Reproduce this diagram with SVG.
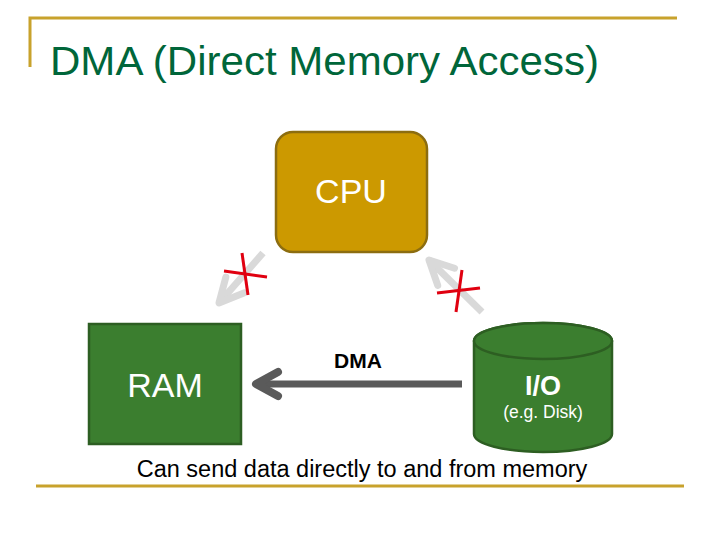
<svg xmlns="http://www.w3.org/2000/svg" width="720" height="540" viewBox="0 0 720 540">
<style>
.frame{stroke:#C8A22C;stroke-width:3;fill:none}
.t{font-family:"Liberation Sans",Arial,sans-serif}
.green{fill:#3B7E2F;stroke:#2D5E22;stroke-width:2.5}
.wt{fill:#FFFFFF}
.gray{stroke:#D9D9D9;stroke-width:7;fill:none}
.cross{stroke:#E00010;stroke-width:3}
.main{stroke:#5A5A5A;stroke-width:7;fill:none}
</style>
<defs>
<marker id="headDark" markerUnits="userSpaceOnUse" markerWidth="60" markerHeight="60" viewBox="-30 -30 60 60" refX="0" refY="0" orient="auto" overflow="visible">
<path d="M-22,-12 L0,0 L-22,12" fill="none" stroke="#5A5A5A" stroke-width="8" stroke-linecap="round" stroke-linejoin="round"/>
</marker>
<marker id="headGray" markerUnits="userSpaceOnUse" markerWidth="60" markerHeight="60" viewBox="-30 -30 60 60" refX="0" refY="0" orient="auto" overflow="visible">
<path d="M-24,-12 L0,0 L-24,12" fill="none" stroke="#D9D9D9" stroke-width="7" stroke-linecap="round" stroke-linejoin="round"/>
</marker>
</defs>
<rect width="720" height="540" fill="#FFFFFF"/>
<g id="frame">
<path class="frame" d="M30,67 L30,18 L677,18"/>
<line class="frame" x1="36" y1="486" x2="684" y2="486"/>
</g>
<text id="title" class="t" x="50" y="75" font-size="40" fill="#00663A" textLength="549" lengthAdjust="spacingAndGlyphs">DMA (Direct Memory Access)</text>
<g id="cpu">
<rect x="276" y="132" width="151" height="120" rx="17" fill="#CC9900" stroke="#8C6D10" stroke-width="2.5"/>
<text class="t wt" x="351" y="203" font-size="34" text-anchor="middle">CPU</text>
</g>
<g id="ram">
<rect class="green" x="89" y="324" width="152" height="120"/>
<text class="t wt" x="165" y="397" font-size="34" text-anchor="middle">RAM</text>
</g>
<g id="io">
<path class="green" d="M474,341 L474,434 A69,18 0 0 0 612,434 L612,341 A69,18 0 0 0 474,341 Z"/>
<ellipse class="green" cx="543" cy="341" rx="69" ry="18"/>
<text class="t wt" x="543" y="395" font-size="27" font-weight="bold" text-anchor="middle">I/O</text>
<text class="t wt" x="543" y="418" font-size="17.5" text-anchor="middle">(e.g. Disk)</text>
</g>
<g id="connectors">
<line class="main" x1="462" y1="384" x2="256" y2="384" marker-end="url(#headDark)"/>
<line class="gray" x1="263" y1="253" x2="219" y2="303" marker-end="url(#headGray)"/>
<line class="gray" x1="482" y1="312" x2="429" y2="260" marker-end="url(#headGray)"/>
<line class="cross" x1="242" y1="253" x2="248" y2="295"/>
<line class="cross" x1="224" y1="271" x2="267" y2="277"/>
<line class="cross" x1="462" y1="270" x2="456" y2="312"/>
<line class="cross" x1="437" y1="293" x2="480" y2="288"/>
</g>
<text id="dma-label" class="t" x="358" y="368" font-size="21" font-weight="bold" fill="#000000" text-anchor="middle">DMA</text>
<text id="caption" class="t" x="362" y="477" font-size="23.5" fill="#000000" text-anchor="middle">Can send data directly to and from memory</text>
</svg>
